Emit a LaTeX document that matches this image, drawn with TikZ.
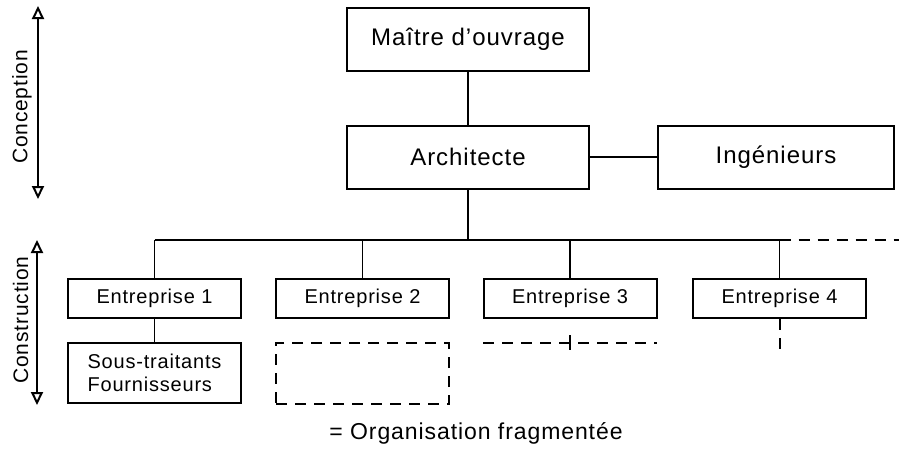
\documentclass[tikz,border=0pt]{standalone}
\usepackage{fontspec}
\setmainfont[LetterSpace=4]{Liberation Sans}
\usetikzlibrary{arrows.meta}
\tikzset{
  box/.style={draw, line width=2pt, inner sep=0pt, minimum width=173pt, minimum height=39pt, font=\fontsize{20}{23}\selectfont},
  bigbox/.style={box, minimum width=242pt, minimum height=63pt, font=\fontsize{24}{28}\selectfont},
  emptybox/.style={box, dash pattern=on 11pt off 8pt},
  link/.style={line width=1.8pt},
  dlink/.style={link, line width=2pt, dash pattern=on 11pt off 8pt},
  phase/.style={line width=1.5pt, {Triangle[open,width=12pt,length=13pt,line width=2pt]}-{Triangle[open,width=12pt,length=13pt,line width=2pt]}},
  phaselabel/.style={rotate=90, font=\fontsize{21}{24}\selectfont}
}
\begin{document}
\begin{tikzpicture}[x=1pt, y=-1pt]
  \useasboundingbox (0,0) rectangle (899,453);
  \node[bigbox] (mo) at (468,39) {Maître d’ouvrage};
  \node[bigbox] (arch) at (468,157) {Architecte};
  \node[bigbox, minimum width=236pt] (ing) at (776,157) {Ingénieurs};
  \draw[link] (mo) -- (arch);
  \draw[link] (arch) -- (ing);
  \foreach \n/\x in {1/154.5,2/362.5,3/570,4/779.5} {
    \node[box] (e\n) at (\x,298.5) {Entreprise \n};
  }
  \coordinate (bus) at (468,240);
  \coordinate (busend) at (899,240);
  \draw[link] (arch.south) -- (bus);
  \draw[link] (e1.north |- bus) -- (e4.north |- bus);
  \foreach \n in {1,...,4} {
    \draw[link] (e\n.north |- bus) -- (e\n.north);
  }
  \draw[dlink] (e4.north |- bus) -- (busend);
  \node[box, minimum height=60pt, align=left] (st) at (154.5,373) {Sous-traitants\\Fournisseurs};
  \draw[link] (e1) -- (st);
  \node[emptybox, minimum height=61pt] (vide) at (362.5,373.5) {};
  \coordinate (e3a) at (483,343);
  \coordinate (e3b) at (657,343);
  \coordinate (e3top) at (570,335);
  \coordinate (e3bot) at (570,350);
  \draw[dlink] (e3a) -- (e3b);
  \draw[link] (e3top) -- (e3bot);
  \coordinate (e4bot) at (779.5,350);
  \draw[dlink] (e4.south) -- (e4bot);
  \coordinate (conchaut) at (38,6);
  \coordinate (concbas) at (38,199);
  \draw[phase] (conchaut) -- (concbas);
  \node[phaselabel] (conception) at (22,107) {Conception};
  \coordinate (consthaut) at (37,240);
  \coordinate (constbas) at (37,405);
  \draw[phase] (consthaut) -- (constbas);
  \node[phaselabel] (construction) at (20.5,320) {Construction};
  \node[font=\fontsize{23}{26}\selectfont] (legende) at (476,433) {= Organisation fragmentée};
\end{tikzpicture}
\end{document}
